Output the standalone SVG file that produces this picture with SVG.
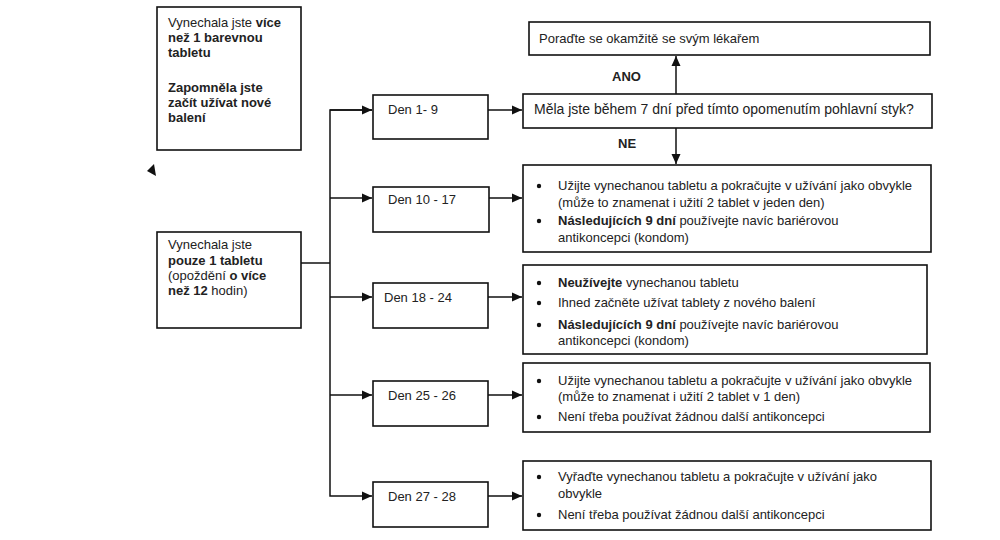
<svg xmlns="http://www.w3.org/2000/svg" width="1000" height="540" viewBox="0 0 1000 540">
<style>
.box{fill:#fff;stroke:#111;stroke-width:1.6}
.t{font-family:"Liberation Sans",Arial,sans-serif;font-size:13px;fill:#222}
.q{font-size:14px}
.b{font-weight:bold}
.c{fill:none;stroke:#111;stroke-width:1.5}
.dot{fill:#111}
</style>
<defs>
<marker id="ah" markerUnits="userSpaceOnUse" markerWidth="10" markerHeight="10" viewBox="0 0 10 10" refX="10" refY="5" orient="auto">
<path d="M0,0.5 L10,5 L0,9.5 Z" fill="#111"/>
</marker>
</defs>
<rect width="1000" height="540" fill="#fff"/>

<g id="connectors">
<polyline class="c" points="301,263 330,263"/>
<polyline class="c" points="372,110 330,110 330,496 372,496" marker-end="url(#ah)"/>
<line class="c" x1="330" y1="110" x2="372" y2="110" marker-end="url(#ah)"/>
<line class="c" x1="330" y1="198" x2="372" y2="198" marker-end="url(#ah)"/>
<line class="c" x1="330" y1="297" x2="372" y2="297" marker-end="url(#ah)"/>
<line class="c" x1="330" y1="395" x2="372" y2="395" marker-end="url(#ah)"/>
<line class="c" x1="488" y1="110" x2="522" y2="110" marker-end="url(#ah)"/>
<line class="c" x1="489" y1="198" x2="522" y2="198" marker-end="url(#ah)"/>
<line class="c" x1="488" y1="297" x2="522" y2="297" marker-end="url(#ah)"/>
<line class="c" x1="488" y1="395" x2="522" y2="395" marker-end="url(#ah)"/>
<line class="c" x1="488" y1="496" x2="522" y2="496" marker-end="url(#ah)"/>
<line class="c" x1="676" y1="94" x2="676" y2="56" marker-end="url(#ah)"/>
<line class="c" x1="676" y1="128" x2="676" y2="164" marker-end="url(#ah)"/>
<text class="t b" x="612" y="81">ANO</text>
<text class="t b" x="618" y="148">NE</text>
</g>

<polygon points="147,171 154,164 156,176" fill="#111"/>

<g id="n-vice">
<rect class="box" x="157" y="7" width="144" height="143"/>
<text class="t" x="168" y="27">Vynechala jste <tspan class="b">více</tspan></text>
<text class="t b" x="168" y="42">než 1 barevnou</text>
<text class="t b" x="168" y="57">tabletu</text>
<text class="t b" x="168" y="92">Zapomněla jste</text>
<text class="t b" x="168" y="107">začít užívat nové</text>
<text class="t b" x="168" y="122">balení</text>
</g>

<g id="n-one">
<rect class="box" x="157" y="232" width="144" height="96"/>
<text class="t" x="168" y="249">Vynechala jste</text>
<text class="t b" x="168" y="265">pouze 1 tabletu</text>
<text class="t" x="168" y="280">(opoždění <tspan class="b">o více</tspan></text>
<text class="t" x="168" y="295"><tspan class="b">než 12</tspan> hodin)</text>
</g>

<g id="d1">
<rect class="box" x="373" y="95" width="115" height="44"/>
<text class="t" x="388" y="114">Den 1- 9</text>
</g>
<g id="d2">
<rect class="box" x="373" y="187" width="116" height="45"/>
<text class="t" x="388" y="204">Den 10 - 17</text>
</g>
<g id="d3">
<rect class="box" x="373" y="283" width="115" height="45"/>
<text class="t" x="384" y="302">Den 18 - 24</text>
</g>
<g id="d4">
<rect class="box" x="373" y="381" width="115" height="45"/>
<text class="t" x="388" y="400">Den 25 - 26</text>
</g>
<g id="d5">
<rect class="box" x="373" y="482" width="115" height="45"/>
<text class="t" x="388" y="501">Den 27 - 28</text>
</g>

<g id="doctor">
<rect class="box" x="529" y="22" width="401" height="33"/>
<text class="t" x="539" y="43">Poraďte se okamžitě se svým lékařem</text>
</g>

<g id="question">
<rect class="box" x="523" y="94" width="409" height="34"/>
<text class="t q" x="534" y="114">Měla jste během 7 dní před tímto opomenutím pohlavní styk?</text>
</g>

<g id="r2">
<rect class="box" x="523" y="165" width="408" height="87"/>
<circle class="dot" cx="539" cy="186" r="2.2"/>
<text class="t" x="558" y="190">Užijte vynechanou tabletu a pokračujte v užívání jako obvykle</text>
<text class="t" x="558" y="207">(může to znamenat i užití 2 tablet v jeden den)</text>
<circle class="dot" cx="539" cy="221" r="2.2"/>
<text class="t" x="558" y="225"><tspan class="b">Následujících 9 dní</tspan> používejte navíc bariérovou</text>
<text class="t" x="558" y="242">antikoncepci (kondom)</text>
</g>

<g id="r3">
<rect class="box" x="523" y="265" width="404" height="89"/>
<circle class="dot" cx="539" cy="283" r="2.2"/>
<text class="t" x="558" y="287"><tspan class="b">Neužívejte</tspan> vynechanou tabletu</text>
<circle class="dot" cx="539" cy="303" r="2.2"/>
<text class="t" x="558" y="307">Ihned začněte užívat tablety z nového balení</text>
<circle class="dot" cx="539" cy="325" r="2.2"/>
<text class="t" x="558" y="329"><tspan class="b">Následujících 9 dní</tspan> používejte navíc bariérovou</text>
<text class="t" x="558" y="345">antikoncepci (kondom)</text>
</g>

<g id="r4">
<rect class="box" x="523" y="363" width="407" height="69"/>
<circle class="dot" cx="539" cy="381" r="2.2"/>
<text class="t" x="558" y="385">Užijte vynechanou tabletu a pokračujte v užívání  jako obvykle</text>
<text class="t" x="558" y="401">(může to znamenat i užití 2 tablet v 1 den)</text>
<circle class="dot" cx="539" cy="417" r="2.2"/>
<text class="t" x="558" y="421">Není třeba používat žádnou další antikoncepci</text>
</g>

<g id="r5">
<rect class="box" x="523" y="461" width="408" height="69"/>
<circle class="dot" cx="539" cy="477" r="2.2"/>
<text class="t" x="558" y="481">Vyřaďte vynechanou tabletu a pokračujte v užívání jako</text>
<text class="t" x="558" y="498">obvykle</text>
<circle class="dot" cx="539" cy="515" r="2.2"/>
<text class="t" x="558" y="519">Není třeba používat žádnou další antikoncepci</text>
</g>
</svg>
